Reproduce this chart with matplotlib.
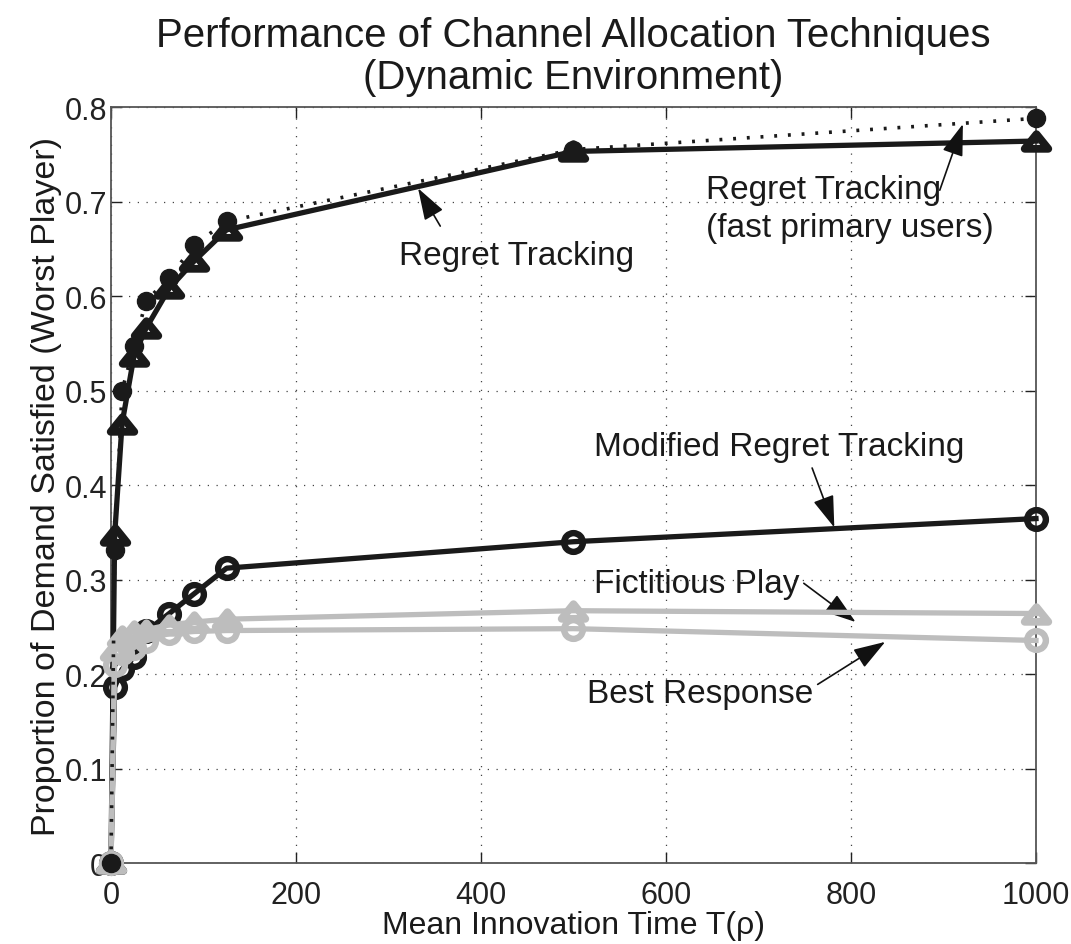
import matplotlib
matplotlib.use("Agg")
import matplotlib.pyplot as plt
from matplotlib.path import Path

# ---- data ----
x_vals = [0, 4, 12, 25, 38, 63, 90, 125, 500, 1000]
regret_tracking = [0, 0.347, 0.465, 0.537, 0.566, 0.608, 0.637, 0.670, 0.753, 0.764]
regret_fast = [0, 0.331, 0.500, 0.547, 0.595, 0.619, 0.654, 0.679, 0.755, 0.788]
modified_regret = [0, 0.186, 0.205, 0.218, 0.245, 0.264, 0.285, 0.312, 0.340, 0.3645]
fictitious_play = [0, 0.225, 0.240, 0.245, 0.247, 0.252, 0.255, 0.258, 0.267, 0.264]
best_response = [0, 0.210, 0.222, 0.228, 0.235, 0.243, 0.245, 0.246, 0.248, 0.2355]

x_ticks = [0, 200, 400, 600, 800, 1000]
y_ticks = [0, 0.1, 0.2, 0.3, 0.4, 0.5, 0.6, 0.7, 0.8]
y_tick_labels = ["0", "0.1", "0.2", "0.3", "0.4", "0.5", "0.6", "0.7", "0.8"]

title = "Performance of Channel Allocation Techniques\n(Dynamic Environment)"
xlabel = "Mean Innovation Time T(ρ)"
ylabel = "Proportion of Demand Satisfied (Worst Player)"

plt.rcParams['font.family'] = ['Liberation Sans', 'DejaVu Sans']

BLACK = '#1a1a1a'
GRAY = '#bdbdbd'

# wide triangle marker (like MATLAB '^')
tri = Path([(0, 0.62), (-1, -0.62), (1, -0.62), (0, 0.62)],
           [Path.MOVETO, Path.LINETO, Path.LINETO, Path.CLOSEPOLY])

fig = plt.figure(figsize=(10.71, 9.45), dpi=100)
ax = fig.add_axes([0.1036, 0.0857, 0.8637, 0.8])

common = dict(clip_on=False, solid_joinstyle='round')
# black solid lines
ax.plot(x_vals, regret_tracking, color=BLACK, lw=3.8, marker=tri, ms=17,
        mfc='none', mec=BLACK, mew=5.6, zorder=3, **common)
ax.plot(x_vals, modified_regret, color=BLACK, lw=3.8, marker='o', ms=13.5,
        mfc='none', mec=BLACK, mew=4.6, zorder=3, **common)
# gray lines
ax.plot(x_vals, fictitious_play, color=GRAY, lw=3.8, marker=tri, ms=17,
        mfc='none', mec=GRAY, mew=5.6, zorder=4, **common)
ax.plot(x_vals, best_response, color=GRAY, lw=3.8, marker='o', ms=13.5,
        mfc='none', mec=GRAY, mew=4.6, zorder=4, **common)
# dotted fast-primary-user line
ax.plot(x_vals, regret_fast, color=BLACK, lw=2.6, ls=(0, (0.8, 3)), marker='o',
        ms=13, mfc=BLACK, mec=BLACK, zorder=5, clip_on=False)

ax.set_xlim(0, 1000)
ax.set_ylim(0, 0.8)
ax.set_xticks(x_ticks)
ax.set_yticks(y_ticks)
ax.set_yticklabels(y_tick_labels)
ax.tick_params(direction='in', top=True, right=True, length=8, width=1.0,
               labelsize=22, colors='#222222')
ax.tick_params(axis='x', pad=12)
ax.tick_params(axis='y', pad=3)
ax.grid(True, color='#444444', lw=0.9, ls=(0, (1, 6)))
for s in ax.spines.values():
    s.set_color('#555555')
    s.set_linewidth(1.3)

ax.set_title(title, fontsize=29, color='#1a1a1a', pad=14, linespacing=1.12)
ax.set_xlabel(xlabel, fontsize=23, color='#1a1a1a', labelpad=0)
ax.set_ylabel(ylabel, fontsize=24.5, color='#1a1a1a', labelpad=2)

arrow = dict(arrowstyle='-|>,head_length=0.9,head_width=0.3', color='#111111',
             lw=1.2, shrinkA=0, shrinkB=0, mutation_scale=22)
fs = 24
ax.annotate("Regret Tracking", xy=(332, 0.714), xytext=(439, 0.643),
            fontsize=fs, ha='center', va='center', color='#1a1a1a')
ax.annotate("", xy=(332, 0.714), xytext=(356, 0.674), arrowprops=arrow)

ax.annotate("Regret Tracking\n(fast primary users)", xy=(921, 0.782), xytext=(643, 0.693),
            fontsize=fs, ha='left', va='center', multialignment='left',
            color='#1a1a1a', linespacing=1.3)
ax.annotate("", xy=(921, 0.782), xytext=(896, 0.712), arrowprops=arrow)

ax.annotate("Modified Regret Tracking", xy=(782, 0.355), xytext=(722, 0.441),
            fontsize=fs, ha='center', va='center', color='#1a1a1a')
ax.annotate("", xy=(782, 0.355), xytext=(758, 0.418), arrowprops=arrow)

ax.annotate("Fictitious Play", xy=(805, 0.255), xytext=(633, 0.296),
            fontsize=fs, ha='center', va='center', color='#1a1a1a')
ax.annotate("", xy=(805, 0.255), xytext=(749, 0.296), arrowprops=arrow)

ax.annotate("Best Response", xy=(837, 0.234), xytext=(637, 0.179),
            fontsize=fs, ha='center', va='center', color='#1a1a1a')
ax.annotate("", xy=(837, 0.234), xytext=(764, 0.189), arrowprops=arrow)

fig.savefig("out.png", dpi=100)
